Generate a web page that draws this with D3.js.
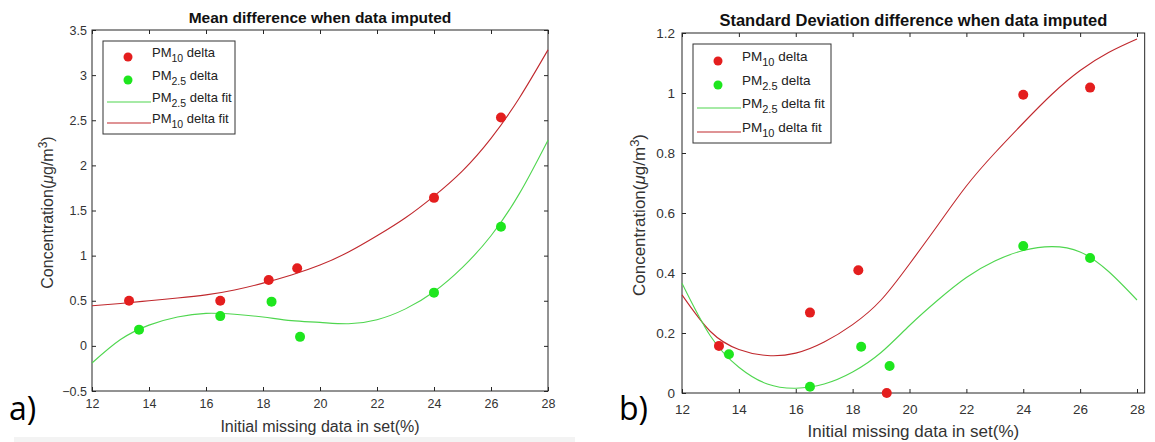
<!DOCTYPE html>
<html lang="en">
<head>
    <meta charset="UTF-8" />
    <title>Imputed data differences</title>
    <script src="https://cdnjs.cloudflare.com/ajax/libs/d3/7.8.5/d3.min.js"></script>
    <style>
        body { margin: 0; background: #fff; }
        svg text { font-family: "Liberation Sans", Arial, sans-serif; }
    </style>
</head>
<body>
<div id="chart"></div>
<script>
// shared x values (initial missing data %)
var xTicks = [12, 14, 16, 18, 20, 22, 24, 26, 28];
var fitX = [12, 13, 14, 15, 16, 17, 18, 19, 20, 21, 22, 23, 24, 25, 26, 27, 28];
var pm10X = [13.3, 16.5, 18.2, 19.2, 24, 26.35];
var pm25X = [13.65, 16.5, 18.3, 19.3, 24, 26.35];

// panel a) mean difference
var meanTicks = [-0.5, 0, 0.5, 1, 1.5, 2, 2.5, 3, 3.5];
var meanPm10 = [0.5, 0.5, 0.73, 0.86, 1.64, 2.53];
var meanPm25 = [0.18, 0.33, 0.49, 0.10, 0.59, 1.32];
var meanFit10 = [0.445, 0.47, 0.50, 0.53, 0.565, 0.62, 0.695, 0.785, 0.895, 1.04, 1.22, 1.42, 1.66, 1.94, 2.30, 2.75, 3.28];
var meanFit25 = [-0.19, 0.07, 0.23, 0.32, 0.36, 0.35, 0.32, 0.28, 0.26, 0.245, 0.29, 0.41, 0.60, 0.87, 1.22, 1.69, 2.28];

// panel b) standard deviation difference
var sdTicks = [0, 0.2, 0.4, 0.6, 0.8, 1, 1.2];
var sdPm10 = [0.157, 0.268, 0.409, 0.0, 0.994, 1.018];
var sdPm25 = [0.129, 0.021, 0.154, 0.09, 0.49, 0.45];
var sdFit10 = [0.327, 0.205, 0.145, 0.125, 0.133, 0.17, 0.228, 0.31, 0.43, 0.56, 0.69, 0.80, 0.90, 0.995, 1.075, 1.135, 1.18];
var sdFit25 = [0.366, 0.19, 0.086, 0.03, 0.016, 0.03, 0.07, 0.135, 0.225, 0.31, 0.385, 0.44, 0.475, 0.488, 0.47, 0.405, 0.31];

var red = "#e41e1e", green = "#1ee61e", redLine = "#c0282d", greenLine = "#4fd64f";

var svg = d3.select("#chart").append("svg")
    .attr("width", 1155)
    .attr("height", 442);

// faint strip along the bottom of panel a
svg.append("rect")
    .attr("x", 14).attr("y", 437).attr("width", 561).attr("height", 5)
    .attr("fill", "#f3f3f3");

function drawPanel(p) {
    var x = d3.scaleLinear().domain([12, 28]).range([p.left, p.right]);
    var y = d3.scaleLinear().domain(p.yDomain).range([p.bottom, p.top]);
    var boxRight = x(p.xMax);
    var g = svg.append("g");

    // box with inward ticks
    g.append("rect")
        .attr("x", p.left).attr("y", p.top)
        .attr("width", boxRight - p.left).attr("height", p.bottom - p.top)
        .attr("fill", "none").attr("stroke", "#262626").attr("stroke-width", 1);

    var bottomAxis = g.append("g")
        .attr("transform", "translate(0," + p.bottom + ")")
        .call(d3.axisBottom(x).tickValues(xTicks).tickSizeInner(-4).tickSizeOuter(0).tickPadding(p.xPad));
    g.append("g")
        .attr("transform", "translate(0," + p.top + ")")
        .call(d3.axisTop(x).tickValues(xTicks).tickSizeInner(-4).tickSizeOuter(0).tickFormat(""));
    g.append("g")
        .attr("transform", "translate(" + p.left + ",0)")
        .call(d3.axisLeft(y).tickValues(p.yTicks).tickSizeInner(-4).tickSizeOuter(0).tickPadding(p.yPad).tickFormat(d3.format("")));
    if (p.rightTicks) {
        g.append("g")
            .attr("transform", "translate(" + boxRight + ",0)")
            .call(d3.axisRight(y).tickValues(p.yTicks).tickSizeInner(-4).tickSizeOuter(0).tickFormat(""));
    }

    g.selectAll(".domain").remove();
    g.selectAll(".tick line").attr("stroke", "#262626");
    g.selectAll(".tick text").attr("fill", "#333").style("font-size", p.tickSize + "px");

    // fitted curves
    var line = d3.line()
        .x(function(d) { return x(d[0]); })
        .y(function(d) { return y(d[1]); })
        .curve(d3.curveNatural);
    g.append("path")
        .datum(d3.zip(fitX, p.fit10))
        .attr("d", line).attr("fill", "none")
        .attr("stroke", redLine).attr("stroke-width", 1.1);
    g.append("path")
        .datum(d3.zip(fitX, p.fit25))
        .attr("d", line).attr("fill", "none")
        .attr("stroke", greenLine).attr("stroke-width", 1.1);

    // data points
    g.selectAll(".pm10").data(d3.zip(pm10X, p.pm10)).enter().append("circle")
        .attr("cx", function(d) { return x(d[0]); })
        .attr("cy", function(d) { return y(d[1]); })
        .attr("r", 5).attr("fill", red);
    g.selectAll(".pm25").data(d3.zip(pm25X, p.pm25)).enter().append("circle")
        .attr("cx", function(d) { return x(d[0]); })
        .attr("cy", function(d) { return y(d[1]); })
        .attr("r", 5).attr("fill", green);

    // title
    g.append("text")
        .attr("x", (p.left + boxRight) / 2).attr("y", p.top - 7)
        .attr("text-anchor", "middle")
        .style("font-size", p.titleSize + "px").style("font-weight", "bold")
        .attr("fill", "#111")
        .text(p.title);

    // axis labels
    g.append("text")
        .attr("x", (p.left + boxRight) / 2).attr("y", p.xLabelY)
        .attr("text-anchor", "middle")
        .style("font-size", p.labelSize + "px").attr("fill", "#333")
        .text("Initial missing data in set(%)");

    var yl = g.append("text")
        .attr("transform", "translate(" + p.yLabelX + "," + ((p.top + p.bottom) / 2 + 2) + ")rotate(-90)")
        .attr("text-anchor", "middle")
        .style("font-size", p.labelSize + "px").attr("fill", "#333");
    yl.append("tspan").text("Concentration(");
    yl.append("tspan").style("font-style", "italic").text("μ");
    yl.append("tspan").text("g/m");
    yl.append("tspan").attr("dy", -6).style("font-size", (p.labelSize - 4) + "px").text("3");
    yl.append("tspan").attr("dy", 6).text(")");

    // panel letter
    g.append("text")
        .attr("x", p.letterX).attr("y", 420)
        .style("font-size", "32px").attr("fill", "#000")
        .style("font-family", "'Open Sans', sans-serif")
        .text(p.letter);

    // legend
    var L = p.legend;
    var lg = g.append("g");
    lg.append("rect")
        .attr("x", L.x).attr("y", L.y)
        .attr("width", L.w).attr("height", L.h)
        .attr("fill", "#fff").attr("stroke", "#333").attr("stroke-width", 1);

    var entries = [
        {sub: "10", name: " delta", kind: "dot", color: red},
        {sub: "2.5", name: " delta", kind: "dot", color: green},
        {sub: "2.5", name: " delta fit", kind: "line", color: greenLine},
        {sub: "10", name: " delta fit", kind: "line", color: redLine}
    ];
    entries.forEach(function(e, i) {
        var ey = L.rows[i];
        if (e.kind === "dot") {
            lg.append("circle").attr("cx", L.markX).attr("cy", ey)
                .attr("r", 4.5).attr("fill", e.color);
        } else {
            lg.append("line")
                .attr("x1", L.lineX0).attr("x2", L.textX)
                .attr("y1", ey).attr("y2", ey)
                .attr("stroke", e.color).attr("stroke-width", 1.1);
        }
        var t = lg.append("text")
            .attr("x", L.textX + 1).attr("y", ey)
            .style("font-size", L.size + "px").attr("fill", "#222");
        t.append("tspan").text("PM");
        t.append("tspan").attr("dy", 5).style("font-size", (L.size - 2.5) + "px").text(e.sub);
        t.append("tspan").attr("dy", -5).text(e.name);
    });
}

drawPanel({
    left: 92, right: 548, top: 30, bottom: 391, xMax: 28,
    yDomain: [-0.5, 3.5], yTicks: meanTicks, rightTicks: true,
    pm10: meanPm10, pm25: meanPm25, fit10: meanFit10, fit25: meanFit25,
    title: "Mean difference when data imputed", titleSize: 15.5,
    tickSize: 12.5, xPad: 8, yPad: 5, labelSize: 16,
    xLabelY: 432, yLabelX: 53, letter: "a)", letterX: 9,
    legend: {x: 103, y: 41, w: 132, h: 93, rows: [57, 80, 102, 123], markX: 128, lineX0: 107, textX: 151, size: 13}
});

drawPanel({
    left: 682, right: 1137, top: 33, bottom: 393, xMax: 28.27,
    yDomain: [0, 1.2], yTicks: sdTicks, rightTicks: false,
    pm10: sdPm10, pm25: sdPm25, fit10: sdFit10, fit25: sdFit25,
    title: "Standard Deviation difference when data imputed", titleSize: 16.5,
    tickSize: 13.5, xPad: 11, yPad: 7, labelSize: 17,
    xLabelY: 437, yLabelX: 645, letter: "b)", letterX: 619,
    legend: {x: 693, y: 44, w: 138, h: 99, rows: [61, 85, 108, 132], markX: 718, lineX0: 697, textX: 741, size: 13.5}
});
</script>
</body>
</html>
